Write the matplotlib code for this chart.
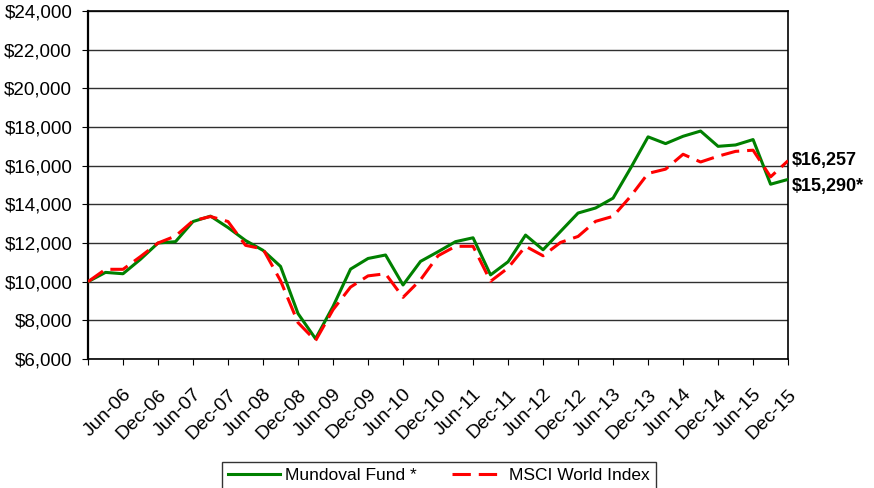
import matplotlib
matplotlib.use('Agg')
import matplotlib.pyplot as plt
from matplotlib.ticker import FuncFormatter
from matplotlib.transforms import ScaledTranslation

plt.rcParams['font.family'] = ['Liberation Sans', 'DejaVu Sans']

quarters = ['Dec-05', 'Mar-06', 'Jun-06', 'Sep-06', 'Dec-06', 'Mar-07', 'Jun-07', 'Sep-07',
            'Dec-07', 'Mar-08', 'Jun-08', 'Sep-08', 'Dec-08', 'Mar-09', 'Jun-09', 'Sep-09',
            'Dec-09', 'Mar-10', 'Jun-10', 'Sep-10', 'Dec-10', 'Mar-11', 'Jun-11', 'Sep-11',
            'Dec-11', 'Mar-12', 'Jun-12', 'Sep-12', 'Dec-12', 'Mar-13', 'Jun-13', 'Sep-13',
            'Dec-13', 'Mar-14', 'Jun-14', 'Sep-14', 'Dec-14', 'Mar-15', 'Jun-15', 'Sep-15',
            'Dec-15']

fund = [10000, 10480, 10410, 11160, 12000, 12070, 13110, 13390,
        12800, 12130, 11620, 10790, 8350, 7050, 8720, 10650,
        11200, 11380, 9830, 11050, 11550, 12070, 12270, 10350,
        11030, 12410, 11650, 12600, 13550, 13810, 14320, 15870,
        17490, 17140, 17520, 17790, 17000, 17070, 17350, 15040,
        15290]

msci = [10000, 10640, 10640, 11300, 12000, 12360, 13150, 13370,
        13110, 11880, 11690, 10050, 7880, 6950, 8550, 9720,
        10300, 10410, 9190, 10100, 11340, 11830, 11830, 10020,
        10710, 11830, 11340, 12030, 12340, 13120, 13380, 14410,
        15600, 15820, 16590, 16190, 16490, 16740, 16800, 15420,
        16257]

x = list(range(len(quarters)))

fig = plt.figure(figsize=(8.74, 4.88), dpi=100)
ax = fig.add_axes([0.1007, 0.2643, 0.801, 0.7132])

ax.plot(x, fund, color='#008000', lw=2.2, label='Mundoval Fund *', zorder=3)
ax.plot(x, msci, color='#ff0000', lw=2.2, linestyle=(0, (6, 2.6)),
        label='MSCI World Index', zorder=4)

ax.set_xlim(0, 40)
ax.set_ylim(6000, 24000)
ax.set_yticks(range(6000, 24001, 2000))
ax.yaxis.set_major_formatter(FuncFormatter(lambda v, p: '${:,.0f}'.format(v)))
ax.grid(axis='y', color='#303030', lw=1)
ax.set_axisbelow(True)

ax.set_xticks(x[::2])
ax.set_xticklabels([''] + quarters[2::2], rotation=45, ha='right', va='top',
                   rotation_mode='anchor')
# nudge the slanted labels a little left of their ticks
shift = ScaledTranslation(-0.06, 0, fig.dpi_scale_trans)
for lab in ax.get_xticklabels():
    lab.set_transform(lab.get_transform() + shift)

ax.tick_params(axis='y', direction='out', length=4.3, labelsize=13.5, pad=7)
ax.tick_params(axis='x', direction='out', length=4.3, labelsize=14, pad=15)
for s in ax.spines.values():
    s.set_color('black')
    s.set_linewidth(1.2)
ax.spines['left'].set_linewidth(1.6)

ax.annotate('$16,257', xy=(40, msci[-1]), xytext=(3, 0), textcoords='offset points',
            fontsize=13, fontweight='bold', va='center', ha='left', annotation_clip=False)
ax.annotate('$15,290*', xy=(40, fund[-1]), xytext=(3, -5), textcoords='offset points',
            fontsize=13, fontweight='bold', va='center', ha='left', annotation_clip=False)

leg = fig.legend(loc='upper center', bbox_to_anchor=(0.502, 0.072), ncol=2,
                 fontsize=12.5, frameon=True, fancybox=False, handlelength=3.0,
                 borderpad=0.35, columnspacing=2.0, handletextpad=0.3)
leg.get_frame().set_edgecolor('black')
leg.get_frame().set_linewidth(1.0)

fig.savefig('out.png', dpi=100)
